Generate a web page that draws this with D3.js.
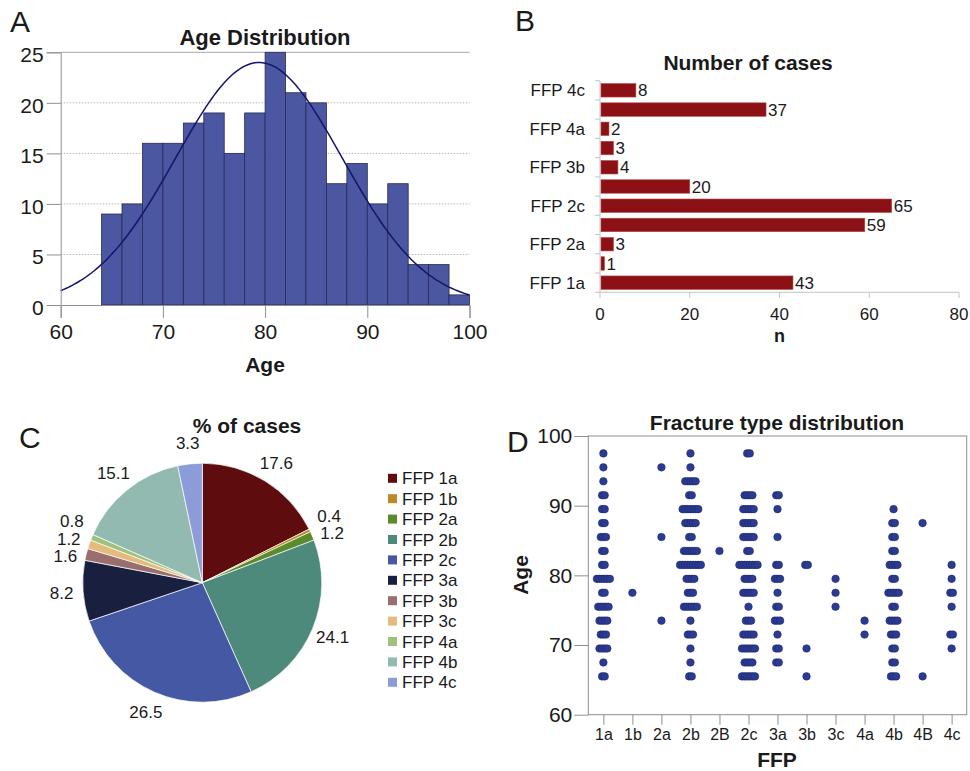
<!DOCTYPE html>
<html><head><meta charset="utf-8">
<script src="https://cdn.jsdelivr.net/npm/d3@7/dist/d3.min.js"></script>
<style>
html,body{margin:0;padding:0;background:#fff;}
svg text{font-family:"Liberation Sans",Arial,sans-serif;fill:#1a1a1a;}
</style></head>
<body><svg id="c" width="970" height="771"></svg>
<script>
// ---------- DATA ----------
// Panel A: age histogram (bins of 2 years)
const ageBinStarts = [64,66,68,70,72,74,76,78,80,82,84,86,88,90,92,94,96,98];
const ageCounts    = [9,10,16,16,18,19,15,19,25,21,20,12,14,10,12,4,4,1];
const ageMean = 79.4, ageSD = 8.15, ageN = 245, ageBinWidth = 2;
const ageXTicks = [60,70,80,90,100];
const ageYTicks = [0,5,10,15,20,25];

// Panel B / C: FFP classes (bottom to top in B, clockwise in C)
const ffpTypes   = ["FFP 1a","FFP 1b","FFP 2a","FFP 2b","FFP 2c","FFP 3a","FFP 3b","FFP 3c","FFP 4a","FFP 4b","FFP 4c"];
const caseCounts = [43,1,3,59,65,20,4,3,2,37,8];
const casePct    = [17.6,0.4,1.2,24.1,26.5,8.2,1.6,1.2,0.8,15.1,3.3];
const pieColors  = ["#5f0c0f","#bd8a25","#5b8b2c","#4e8a7c","#4558a4","#19203f","#9a6d6f","#e4bb7c","#a0c17e","#92bab0","#8c9cd8"];
const nTicks = [0,20,40,60,80];

// Panel D: dot plot (counts per age level for each FFP type)
const dotCategories = ["1a","1b","2a","2b","2B","2c","3a","3b","3c","4a","4b","4B","4c"];
const ageLevels = [65.5,67.5,69.5,71.5,73.5,75.5,77.5,79.5,81.5,83.5,85.5,87.5,89.5,91.5,93.5,95.5,97.5];
const dots1a = [2,1,4,3,4,5,2,6,2,2,3,2,2,2,1,1,1];
const dots1b = [0,0,0,0,0,0,1,0,0,0,0,0,0,0,0,0,0];
const dots2a = [0,0,0,0,1,0,0,0,0,0,1,0,0,0,0,1,0];
const dots2b = [2,1,1,3,1,6,3,4,9,6,2,5,7,2,5,1,1];
const dots2B = [0,0,0,0,0,0,0,0,0,1,0,0,0,0,0,0,0];
const dots2c = [6,4,6,5,3,1,5,4,8,2,5,5,5,4,0,0,2];
const dots3a = [0,2,2,1,3,2,1,3,2,0,1,0,1,2,0,0,0];
const dots3b = [1,0,1,0,0,0,0,0,2,0,0,0,0,0,0,0,0];
const dots3c = [0,0,0,0,0,1,1,1,0,0,0,0,0,0,0,0,0];
const dots4a = [0,0,0,1,1,0,0,0,0,0,0,0,0,0,0,0,0];
const dots4b = [3,2,2,3,4,2,5,2,4,2,2,2,1,0,0,0,0];
const dots4B = [1,0,0,0,0,0,0,0,0,0,0,1,0,0,0,0,0];
const dots4c = [0,0,1,2,0,1,2,1,1,0,0,0,0,0,0,0,0];
const dotYTicks = [60,70,80,90,100];

// ---------- DRAW ----------
const svg = d3.select("#c");
const FONT = '"Liberation Sans",Arial,sans-serif';

function panelLabel(t,x,y){ svg.append("text").attr("x",x).attr("y",y).attr("font-size",30).text(t); }
function title(t,x,y,fs){ svg.append("text").attr("x",x).attr("y",y).attr("text-anchor","middle").attr("font-size",fs||21).attr("font-weight","bold").text(t); }

// ===== Panel A =====
panelLabel("A",10,32);
title("Age Distribution",265,45,22);
{
  const x = d3.scaleLinear().domain([60,100]).range([60.7,469.5]);
  const y = d3.scaleLinear().domain([0,25]).range([305,52.3]);
  const g = svg.append("g");
  ageYTicks.filter(v=>v>0 && v<25).forEach(v=>{
    g.append("line").attr("x1",x(60)).attr("x2",x(100)).attr("y1",y(v)).attr("y2",y(v))
      .attr("stroke","#b5b5b5").attr("stroke-dasharray","1.5,1.5").attr("stroke-width",1);
  });
  g.append("line").attr("x1",x(60)).attr("x2",x(100)).attr("y1",y(25)).attr("y2",y(25)).attr("stroke","#b8b8b8").attr("stroke-width",1.2);
  g.selectAll("rect.h").data(ageBinStarts).join("rect")
    .attr("x",d=>x(d)).attr("width",d=>x(d+ageBinWidth)-x(d))
    .attr("y",(d,i)=>y(ageCounts[i])).attr("height",(d,i)=>y(0)-y(ageCounts[i]))
    .attr("fill","#4b57a0").attr("stroke","#262a55").attr("stroke-width",0.8);
  const pts = d3.range(60,100.01,0.25).map(a=>[a, ageN*ageBinWidth/(ageSD*Math.sqrt(2*Math.PI))*Math.exp(-0.5*((a-ageMean)/ageSD)**2)]);
  g.append("path").attr("d",d3.line().x(d=>x(d[0])).y(d=>y(d[1]))(pts)).attr("fill","none").attr("stroke","#141470").attr("stroke-width",1.5);
  const ya = g.append("g").attr("transform",`translate(${x(60)},0)`).call(d3.axisLeft(y).tickValues(ageYTicks).tickSize(14).tickPadding(3));
  ya.select(".domain").attr("stroke","#909090");
  ya.selectAll(".tick line").attr("stroke","#909090");
  ya.selectAll("text").attr("font-size",21).attr("font-family",FONT).attr("fill","#1a1a1a").attr("dy","0.45em");
  const xa = g.append("g").attr("transform",`translate(0,${y(0)})`).call(d3.axisBottom(x).tickValues(ageXTicks).tickSize(13).tickPadding(6));
  xa.select(".domain").attr("stroke","#909090");
  xa.selectAll(".tick line").attr("stroke","#909090");
  xa.selectAll("text").attr("font-size",21).attr("font-family",FONT).attr("fill","#1a1a1a");
  svg.append("text").attr("x",265).attr("y",372).attr("text-anchor","middle").attr("font-size",21).attr("font-weight","bold").text("Age");
}

// ===== Panel B =====
panelLabel("B",515,31);
title("Number of cases",748,70);
{
  const x = d3.scaleLinear().domain([0,80]).range([600,959]);
  const y = d3.scaleBand().domain(ffpTypes.slice().reverse()).range([80.7,292.3]).paddingInner(0.3).paddingOuter(0.15);
  const g = svg.append("g");
  g.append("line").attr("x1",600).attr("x2",600).attr("y1",80.7).attr("y2",292.3).attr("stroke","#c4c4c4");
  g.append("line").attr("x1",600).attr("x2",959).attr("y1",292.3).attr("y2",292.3).attr("stroke","#c4c4c4");
  for(let i=0;i<=ffpTypes.length;i++){
    const yy = 80.7 + i*(292.3-80.7)/ffpTypes.length;
    g.append("line").attr("x1",595).attr("x2",600).attr("y1",yy).attr("y2",yy).attr("stroke","#c4c4c4");
  }
  nTicks.forEach(v=>{
    g.append("line").attr("x1",x(v)).attr("x2",x(v)).attr("y1",292.3).attr("y2",298).attr("stroke","#c4c4c4");
    g.append("text").attr("x",x(v)).attr("y",320).attr("text-anchor","middle").attr("font-size",17).text(v);
  });
  g.selectAll("rect.b").data(ffpTypes).join("rect")
    .attr("x",x(0)+1).attr("y",d=>y(d)).attr("height",y.bandwidth())
    .attr("width",(d,i)=>x(caseCounts[i])-x(0)-1)
    .attr("fill","#8c1116").attr("stroke","#b04a4e").attr("stroke-width",0.6);
  g.selectAll("text.v").data(ffpTypes).join("text")
    .attr("x",(d,i)=>x(caseCounts[i])+2).attr("y",d=>y(d)+y.bandwidth()/2).attr("dy","0.36em")
    .attr("font-size",17).text((d,i)=>caseCounts[i]);
  g.selectAll("text.c").data(ffpTypes.filter((d,i)=>i%2===0)).join("text")
    .attr("x",585).attr("y",d=>y(d)+y.bandwidth()/2).attr("dy","0.36em").attr("text-anchor","end")
    .attr("font-size",17).text(d=>d);
  svg.append("text").attr("x",x(40)).attr("y",342).attr("text-anchor","middle").attr("font-size",18).attr("font-weight","bold").text("n");
}

// ===== Panel C =====
panelLabel("C",19,448);
title("% of cases",247,433);
{
  const cx=202.3, cy=582.7, r=119.5;
  const pie = d3.pie().sort(null).value(d=>d)(casePct);
  const arc = d3.arc().innerRadius(0).outerRadius(r);
  const g = svg.append("g").attr("transform",`translate(${cx},${cy})`);
  g.selectAll("path").data(pie).join("path").attr("d",arc)
    .attr("fill",(d,i)=>pieColors[i]).attr("stroke","#ffffff").attr("stroke-width",0.7);
  const R=141;
  const labs = pie.map((d,i)=>{const a=(d.startAngle+d.endAngle)/2; return {i,a,x:R*Math.sin(a),y:-R*Math.cos(a),side:Math.sin(a)>=0?1:-1};});
  const GAP=17.5;
  for(let it=0;it<100;it++){
    [1,-1].forEach(s=>{
      const L = labs.filter(l=>l.side===s).sort((p,q)=>p.y-q.y);
      for(let k=1;k<L.length;k++){
        const gap = L[k].y-L[k-1].y;
        if(gap<GAP){ const d=(GAP-gap)/2; L[k].y+=d; L[k-1].y-=d; }
      }
    });
  }
  g.selectAll("text").data(labs).join("text")
    .attr("x",d=>d.x).attr("y",d=>d.y).attr("dy","0.36em").attr("text-anchor","middle")
    .attr("font-size",17).text(d=>casePct[d.i].toFixed(1));
  const lg = svg.append("g");
  ffpTypes.forEach((t,i)=>{
    const yy = 478.3 + i*20.4;
    lg.append("rect").attr("x",388).attr("y",yy-4.5).attr("width",9).attr("height",9).attr("fill",pieColors[i]);
    lg.append("text").attr("x",402).attr("y",yy).attr("dy","0.36em").attr("font-size",17).text(t);
  });
}

// ===== Panel D =====
panelLabel("D",507,452);
title("Fracture type distribution",777,430);
{
  const x = d3.scalePoint().domain(dotCategories).range([588.3,966.7]).padding(0.52);
  const y = d3.scaleLinear().domain([60,100]).range([714.7,436]);
  const g = svg.append("g");
  g.append("rect").attr("x",588.3).attr("y",436).attr("width",966.7-588.3).attr("height",714.7-436)
    .attr("fill","none").attr("stroke","#8e8e8e").attr("stroke-width",1);
  const ya = g.append("g").attr("transform","translate(588.3,0)").call(d3.axisLeft(y).tickValues(dotYTicks).tickSize(14).tickPadding(2));
  ya.select(".domain").remove();
  ya.selectAll(".tick line").attr("stroke","#8e8e8e");
  ya.selectAll("text").attr("font-size",21).attr("font-family",FONT).attr("fill","#1a1a1a");
  const xa = g.append("g").attr("transform","translate(0,714.7)").call(d3.axisBottom(x).tickSize(10).tickPadding(4));
  xa.select(".domain").remove();
  xa.selectAll(".tick line").attr("stroke","#8e8e8e");
  xa.selectAll("text").attr("font-size",16).attr("font-family",FONT).attr("fill","#1a1a1a");
  const dotSeries = [dots1a,dots1b,dots2a,dots2b,dots2B,dots2c,dots3a,dots3b,dots3c,dots4a,dots4b,dots4B,dots4c];
  const pts = [];
  dotCategories.forEach((c,ci)=>{
    dotSeries[ci].forEach((n,li)=>{
      for(let k=0;k<n;k++) pts.push({c, age:ageLevels[li], off:(k-(n-1)/2)*2.6});
    });
  });
  g.selectAll("circle").data(pts).join("circle")
    .attr("cx",d=>x(d.c)+d.off).attr("cy",d=>y(d.age)).attr("r",3.8)
    .attr("fill","#2b3b91").attr("stroke","#1b2566").attr("stroke-width",0.5);
  svg.append("text").attr("x",777).attr("y",767).attr("text-anchor","middle").attr("font-size",21).attr("font-weight","bold").text("FFP");
  svg.append("text").attr("transform","translate(528,575) rotate(-90)").attr("text-anchor","middle").attr("font-size",21).attr("font-weight","bold").text("Age");
}
</script></body></html>
